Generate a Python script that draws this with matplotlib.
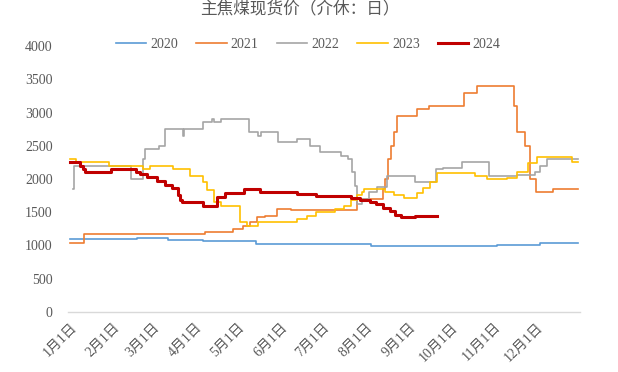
import matplotlib
matplotlib.use("Agg")
import matplotlib.pyplot as plt

plt.rcParams['font.family'] = ['Liberation Serif', 'Noto Sans CJK SC', 'DejaVu Sans']

title = "主焦煤现货价（介休：日）"
month_days = [0, 31, 59, 90, 120, 151, 181, 212, 243, 273, 304, 334]
month_labels = [f"{m}月1日" for m in range(1, 13)]
y_ticks = [0, 500, 1000, 1500, 2000, 2500, 3000, 3500, 4000]

# (day-of-year, price) step points
d2020 = [0, 48, 70, 95, 133, 216, 306, 337, 364]
v2020 = [1100, 1120, 1080, 1070, 1030, 1000, 1010, 1040, 1040]

d2021 = [0, 10, 97, 117, 124, 129, 134, 140, 148, 158, 206, 224, 226, 228, 230, 232, 234,
         249, 257, 282, 292, 318, 320, 326, 330, 334, 346, 364]
v2021 = [1040, 1180, 1200, 1250, 1300, 1350, 1430, 1450, 1550, 1530, 1700, 1850, 2000, 2300,
         2500, 2700, 2950, 3050, 3100, 3290, 3400, 3100, 2700, 2500, 2000, 1800, 1850, 1850]

d2022 = [2, 3, 44, 52, 54, 64, 68, 81, 82, 95, 102, 103, 108, 128, 135, 137, 149, 163, 172,
         179, 194, 199, 202, 204, 206, 209, 214, 220, 227, 247, 262, 267, 281, 300, 320, 333,
         337, 342, 364]
v2022 = [1850, 2200, 2000, 2300, 2450, 2500, 2750, 2650, 2750, 2850, 2900, 2850, 2900, 2700,
         2650, 2700, 2550, 2600, 2500, 2400, 2350, 2300, 2100, 1900, 1620, 1700, 1800, 1880,
         2050, 1950, 2150, 2170, 2250, 2050, 2060, 2100, 2200, 2300, 2300]

d2023 = [0, 4, 28, 52, 57, 74, 86, 95, 98, 103, 108, 122, 127, 135, 163, 170, 176, 190, 196,
         201, 206, 209, 211, 226, 232, 239, 249, 253, 258, 263, 290, 299, 313, 320, 328, 335,
         360, 364]
v2023 = [2300, 2250, 2200, 2150, 2200, 2150, 2050, 1950, 1830, 1650, 1600, 1350, 1300, 1350,
         1400, 1450, 1500, 1550, 1600, 1680, 1760, 1800, 1850, 1800, 1760, 1710, 1790, 1860,
         1950, 2090, 2050, 2000, 2010, 2100, 2240, 2330, 2250, 2250]

d2024 = [0, 7, 9, 11, 29, 47, 50, 55, 62, 68, 73, 77, 79, 80, 95, 105, 111, 125, 136, 163,
         176, 201, 208, 215, 219, 224, 229, 233, 237, 247, 263]
v2024 = [2250, 2200, 2150, 2100, 2150, 2100, 2070, 2030, 1970, 1910, 1870, 1760, 1680, 1650,
         1600, 1730, 1790, 1850, 1800, 1780, 1750, 1720, 1690, 1660, 1620, 1560, 1520, 1460,
         1430, 1450, 1450]

series = [
    ("2020", d2020, v2020, "#5B9BD5", 1.2),
    ("2021", d2021, v2021, "#ED7D31", 1.2),
    ("2022", d2022, v2022, "#A5A5A5", 1.2),
    ("2023", d2023, v2023, "#FFC000", 1.2),
    ("2024", d2024, v2024, "#C00000", 2.2),
]

fig = plt.figure(figsize=(6.18, 3.72), dpi=100)
ax = fig.add_axes([68/618, 1-312/372, (580-68)/618, (312-46)/372])

for name, d, v, c, lw in series:
    ax.plot(d, v, color=c, lw=lw, drawstyle='steps-post', label=name)

ax.set_xlim(-1.5, 365.5)
ax.set_ylim(0, 4000)
ax.set_yticks(y_ticks)
ax.set_yticklabels([str(t) for t in y_ticks], fontsize=10, color='#595959')
ax.set_xticks(month_days)
ax.set_xticklabels(month_labels, rotation=45, ha='right', rotation_mode='anchor',
                   fontsize=10, color='#595959')
ax.tick_params(axis='both', length=0)
ax.tick_params(axis='y', pad=11)
ax.tick_params(axis='x', pad=6)
for s in ['top', 'right', 'left']:
    ax.spines[s].set_visible(False)
ax.spines['bottom'].set_color('#D9D9D9')
ax.spines['bottom'].set_linewidth(1.0)

leg = fig.legend(loc='center', bbox_to_anchor=(308/618, 1-44/372), ncol=5, frameon=False,
                 fontsize=10, handlelength=2.2, columnspacing=1.3, handletextpad=0.3)
for t in leg.get_texts():
    t.set_color('#595959')

fig.text(300/618, 1-10/372, title, ha='center', va='center', fontsize=12, color='#595959')

fig.savefig("out.png", dpi=100)
